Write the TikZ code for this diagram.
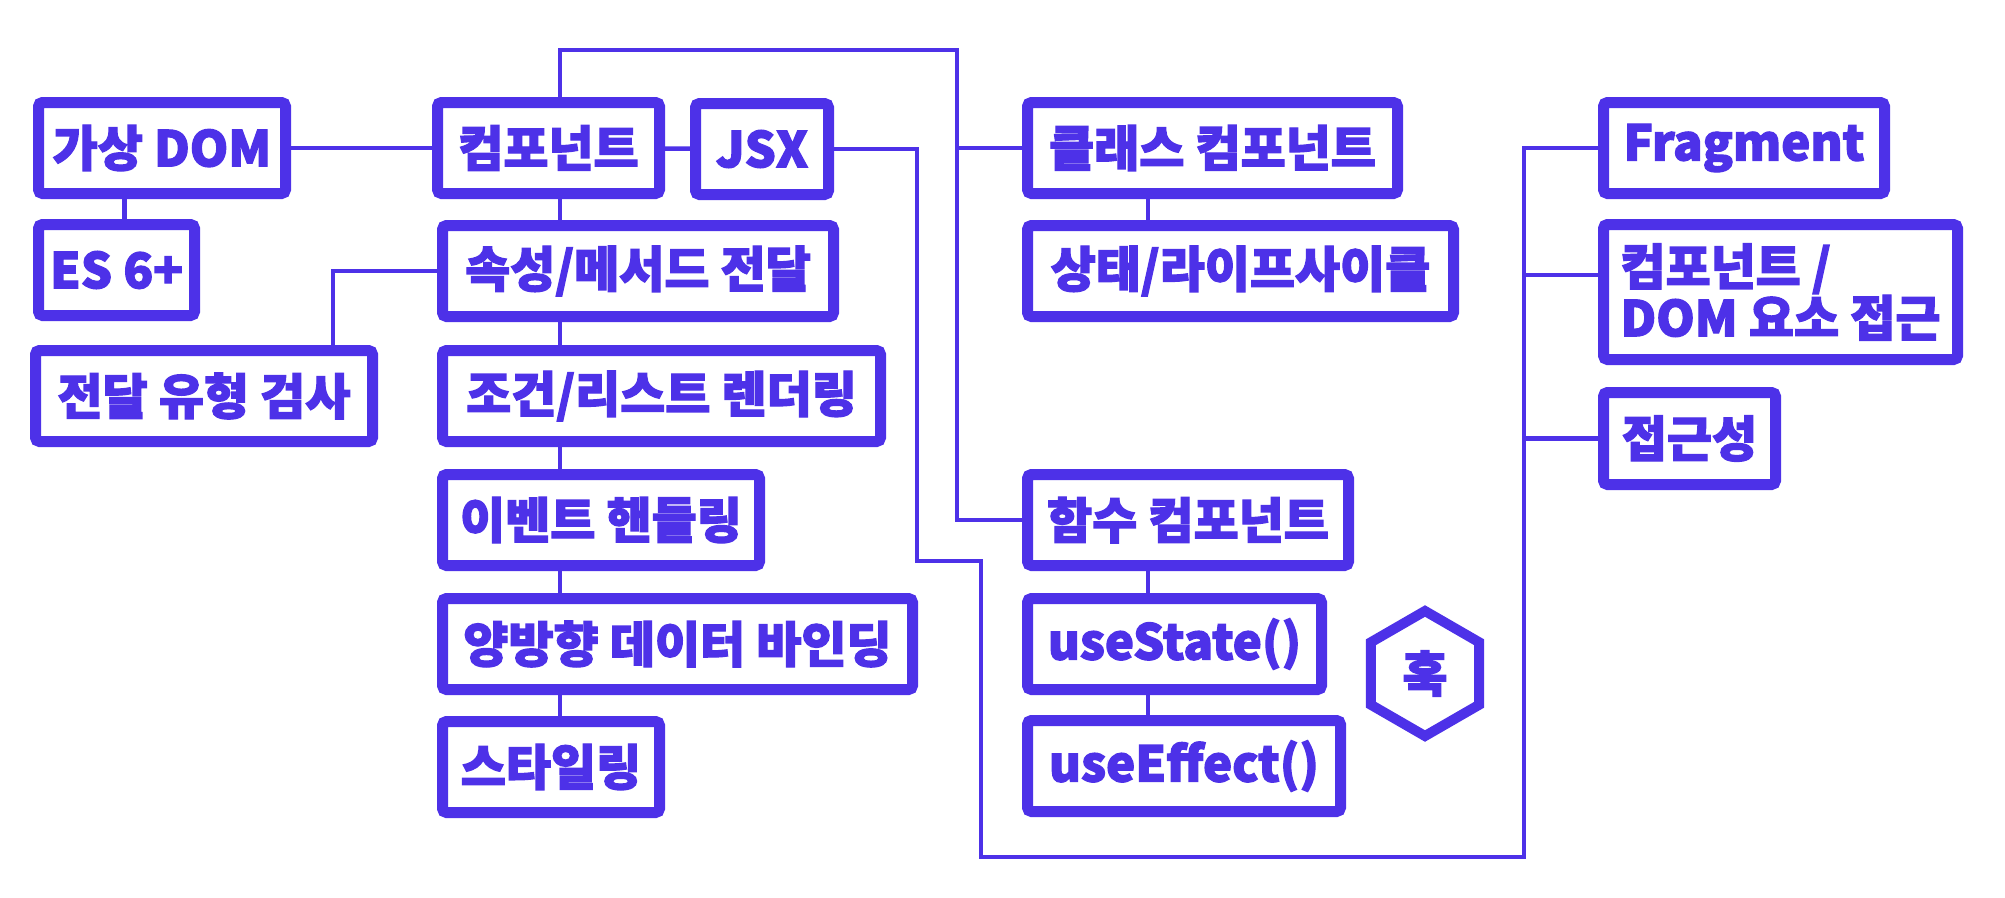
\documentclass[tikz,border=0pt]{standalone}
\usepackage{fontspec}
\setmainfont{Noto Sans CJK KR Black}[FakeBold=2.5]
\usetikzlibrary{shapes.geometric}
\definecolor{reactblue}{HTML}{4D31E8}

\begin{document}
\begin{tikzpicture}[x=1pt,y=-1pt,
    box/.style={draw=reactblue, line width=11pt, rounded corners=4pt, fill=white,
      anchor=north west, minimum height=91pt, inner xsep=0pt, text=reactblue,
      font=\fontsize{49}{48}\selectfont},
    hexa/.style={draw=reactblue, line width=10pt, regular polygon, regular polygon sides=6,
      shape border rotate=30, minimum size=125pt, inner sep=0pt, text=reactblue,
      font=\fontsize{49}{48}\selectfont},
    link/.style={draw=reactblue, line width=4.5pt}]
  \useasboundingbox (0,0) rectangle (2005,897);

  % left column
  \node[box, minimum width=247pt] (vdom) at (33,97) {가상 DOM};
  \node[box, minimum width=156pt] (es6) at (33,219) {ES 6+};
  \node[box, minimum width=337pt] (check) at (30,345) {전달 유형 검사};

  % component column
  \node[box, minimum width=222pt] (comp) at (432,97) {컴포넌트};
  \node[box, minimum width=133pt] (jsx) at (690,98) {JSX};
  \node[box, minimum width=391pt] (props) at (437,220) {속성/메서드 전달};
  \node[box, minimum width=438pt] (cond) at (437,345) {조건/리스트 렌더링};
  \node[box, minimum width=317pt] (event) at (437,469) {이벤트 핸들링};
  \node[box, minimum width=470pt] (bind) at (437,593) {양방향 데이터 바인딩};
  \node[box, minimum width=217pt] (style) at (437,716) {스타일링};

  % class / function components
  \node[box, minimum width=370pt] (cls) at (1022,97) {클래스 컴포넌트};
  \node[box, minimum width=426pt] (life) at (1022,220) {상태/라이프사이클};
  \node[box, minimum width=321pt] (fn) at (1022,469) {함수 컴포넌트};
  \node[box, minimum width=294pt] (ustate) at (1022,593) {useState()};
  \node[box, minimum width=313pt] (ueffect) at (1022,715) {useEffect()};
  \node[hexa] (hook) at (1425,673.5) {훅};

  % right column
  \node[box, minimum width=281pt] (frag) at (1598,97) {Fragment};
  \node[box, minimum width=354pt, minimum height=135pt, align=left] (dom) at (1598,219) {컴포넌트 /\\DOM 요소 접근};
  \node[box, minimum width=172pt, minimum height=92pt] (a11y) at (1598,387) {접근성};

  \coordinate (spine) at (560,0);
  \coordinate (chk) at (333,0);
  \coordinate (top) at (957,50);
  \coordinate (lx) at (1148,0);
  \coordinate (rt) at (1524,0);

  \draw[link] (vdom) -- (comp);
  \draw[link] ([xshift=8pt]es6.north) -- ([xshift=8pt]es6.north |- vdom.south);
  \draw[link] (comp) -- (jsx);
  \draw[link] (props.west) -| (check.north -| chk);
  \foreach \a/\b in {comp/props, props/cond, cond/event, event/bind, bind/style}
    \draw[link] (\a.south -| spine) -- (\b.north -| spine);

  \draw[link] (comp.north -| spine) |- (top) |- (cls.west);
  \draw[link] (top) |- (fn.west);
  \foreach \a/\b in {cls/life, fn/ustate, ustate/ueffect}
    \draw[link] (\a.south -| lx) -- (\b.north -| lx);

  % JSX to the right column
  \draw[link] (jsx.east) -| (917,561) -| (981,857) -| (frag.west -| rt) -- (frag.west);
  \draw[link] ([yshift=17pt]dom.west -| rt) -- ([yshift=17pt]dom.west);
  \draw[link] (a11y.west -| rt) -- (a11y.west);
\end{tikzpicture}
\end{document}
